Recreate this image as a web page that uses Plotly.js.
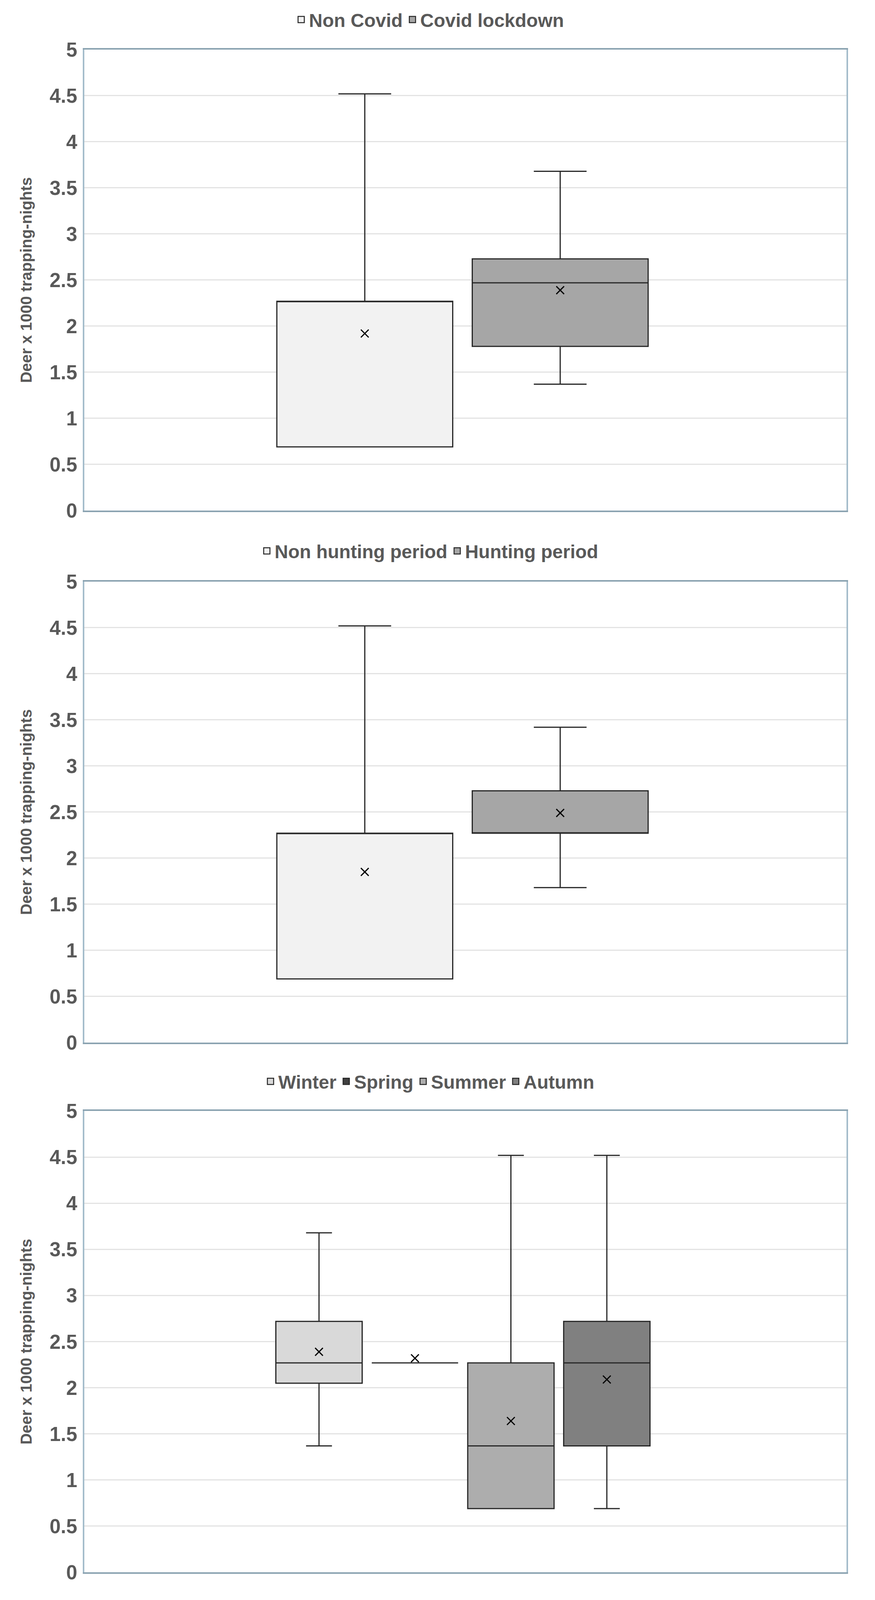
<!DOCTYPE html>
<html>
<head>
<meta charset="utf-8">
<script src="https://cdn.plot.ly/plotly-3.0.1.min.js"></script>
<style>
  html, body { margin: 0; padding: 0; background: #ffffff; overflow: hidden; }
  #chart { width: 2241px; }
</style>
</head>
<body>
<div id="chart"></div>
<script>
// ---------- DATA ----------
const yTitle = 'Deer x 1000 trapping-nights';

const covidCategories = ['Non Covid', 'Covid lockdown'];
const covidMin    = [0.69, 1.37];
const covidQ1     = [0.69, 1.78];
const covidMedian = [2.27, 2.47];
const covidQ3     = [2.27, 2.73];
const covidMax    = [4.52, 3.68];
const covidMean   = [1.92, 2.39];

const huntCategories = ['Non hunting period', 'Hunting period'];
const huntMin    = [0.69, 1.68];
const huntQ1     = [0.69, 2.27];
const huntMedian = [2.27, 2.27];
const huntQ3     = [2.27, 2.73];
const huntMax    = [4.52, 3.42];
const huntMean   = [1.85, 2.49];

const seasonCategories = ['Winter', 'Spring', 'Summer', 'Autumn'];
const seasonMin    = [1.37, 2.27, 0.69, 0.69];
const seasonQ1     = [2.05, 2.27, 0.69, 1.37];
const seasonMedian = [2.27, 2.27, 1.37, 2.27];
const seasonQ3     = [2.72, 2.27, 2.27, 2.72];
const seasonMax    = [3.68, 2.27, 4.52, 4.52];
const seasonMean   = [2.39, 2.32, 1.64, 2.09];

// ---------- STYLE ----------
const covidColors  = ['#f2f2f2', '#a6a6a6'];
const huntColors   = ['#f2f2f2', '#a6a6a6'];
const seasonColors = ['#d9d9d9', '#404040', '#adadad', '#808080'];

// Reference canvas is 2241 x 5131; fit vertically into the real viewport if it is shorter.
const REF_W = 2241, REF_H = 5131;
const W = REF_W;
const H = Math.min(window.innerHeight || REF_H, REF_H);
const sy = H / REF_H;
document.getElementById('chart').style.height = H + 'px';

const FONT = 'Liberation Sans, Arial, Helvetica, sans-serif';
const TEXT = '#595959';
const OUTLINE = '#262626';

const traces = [];

function addPanel(n, cats, mins, q1s, meds, q3s, maxs, means, colors) {
  const xa = n === 1 ? 'x' : 'x' + n;
  const ya = n === 1 ? 'y' : 'y' + n;
  const lg = n === 1 ? 'legend' : 'legend' + n;
  const idx = cats.map((c, i) => i);
  cats.forEach((c, i) => {
    traces.push({
      type: 'box', name: c, xaxis: xa, yaxis: ya,
      x: [idx[i]],
      lowerfence: [mins[i]], q1: [q1s[i]], median: [meds[i]], q3: [q3s[i]], upperfence: [maxs[i]],
      width: 0.9, whiskerwidth: 0.3, boxpoints: false,
      fillcolor: colors[i],
      line: { color: OUTLINE, width: 3 },
      showlegend: false, hoverinfo: 'skip'
    });
  });
  traces.push({
    type: 'scatter', mode: 'markers', xaxis: xa, yaxis: ya,
    x: idx, y: means,
    marker: { symbol: 'x-thin', size: 20, color: '#000000', line: { color: '#000000', width: 3 } },
    showlegend: false, hoverinfo: 'skip'
  });
  cats.forEach((c, i) => {
    traces.push({
      type: 'scatter', mode: 'markers', name: c, xaxis: xa, yaxis: ya, legend: lg,
      x: [null], y: [null],
      marker: { symbol: 'square', size: 16, color: colors[i], line: { color: OUTLINE, width: 2.5 } },
      showlegend: true
    });
  });
}

addPanel(1, covidCategories, covidMin, covidQ1, covidMedian, covidQ3, covidMax, covidMean, covidColors);
addPanel(2, huntCategories, huntMin, huntQ1, huntMedian, huntQ3, huntMax, huntMean, huntColors);
addPanel(3, seasonCategories, seasonMin, seasonQ1, seasonMedian, seasonQ3, seasonMax, seasonMean, seasonColors);

// ---------- LAYOUT (reference pixel positions, converted to fractions) ----------
const plotTop = 159, plotBottom = 5042;
const plotH = plotBottom - plotTop;
function frac(px) { return (plotBottom - px) / plotH; }
const panelPx = [[159, 1637], [1865, 3343], [3563, 5042]];
const legendPx = [63, 1767, 3468];
const xRanges = [[-1.435, 2.465], [-1.435, 2.465], [-2.446, 5.498]];

function xAxis(n) {
  return {
    domain: [0, 1], anchor: n === 1 ? 'y' : 'y' + n,
    range: xRanges[n - 1],
    showticklabels: false, showgrid: false, zeroline: false, ticks: '',
    showline: true, mirror: true, linecolor: '#8ba3b1', linewidth: 4, fixedrange: true
  };
}
function yAxis(n) {
  const p = panelPx[n - 1];
  return {
    domain: [frac(p[1]), frac(p[0])], anchor: n === 1 ? 'x' : 'x' + n,
    range: [0, 5], tick0: 0, dtick: 0.5,
    showgrid: true, gridcolor: '#e3e3e3', gridwidth: 3,
    zeroline: false, ticks: '',
    showline: true, mirror: true, linecolor: '#a4bccb', linewidth: 4,
    ticklabelstandoff: 4,
    tickfont: { family: FONT, size: 51, color: TEXT, weight: 'bold' },
    title: {
      text: yTitle,
      font: { family: FONT, size: Math.round(50 * sy), color: TEXT, weight: 'bold' },
      standoff: 29 + Math.round((1 - sy) * 25)
    },
    fixedrange: true
  };
}
function legend(n) {
  return {
    orientation: 'h',
    xref: 'container', x: 0.491, xanchor: 'center',
    yref: 'container', y: 1 - legendPx[n - 1] / REF_H, yanchor: 'middle',
    font: { family: FONT, size: 48, color: TEXT, weight: 'bold' },
    itemsizing: 'trace', bgcolor: 'rgba(0,0,0,0)'
  };
}

const layout = {
  width: W, height: H,
  margin: { l: 216, r: 73, t: plotTop * sy, b: (REF_H - plotBottom) * sy, autoexpand: false },
  paper_bgcolor: '#ffffff', plot_bgcolor: '#ffffff',
  font: { family: FONT, color: TEXT },
  showlegend: true,
  xaxis: xAxis(1), xaxis2: xAxis(2), xaxis3: xAxis(3),
  yaxis: yAxis(1), yaxis2: yAxis(2), yaxis3: yAxis(3),
  legend: legend(1), legend2: legend(2), legend3: legend(3)
};

Plotly.newPlot('chart', traces, layout, { staticPlot: true, displayModeBar: false });
</script>
</body>
</html>
